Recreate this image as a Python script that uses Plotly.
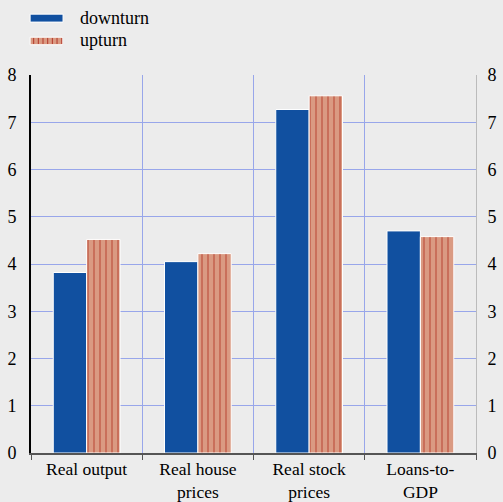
import plotly.graph_objects as go

categories = ["Real output", "Real house<br>prices", "Real stock<br>prices", "Loans-to-<br>GDP"]
downturn = [3.82, 4.05, 7.27, 4.70]
upturn = [4.52, 4.22, 7.56, 4.58]
y_ticks = [0, 1, 2, 3, 4, 5, 6, 7, 8]

FONT = "Liberation Serif"
BG = "#ececec"
GRID = "#98a6ea"
BLUE = "#1150a0"
SALMON = "#da9a82"
RED = "#b3382a"
FS = 18

fig = go.Figure()
fig.add_trace(go.Bar(x=categories, y=downturn, name="downturn",
                     marker=dict(color=BLUE, line=dict(color="white", width=1)),
                     showlegend=False))
fig.add_trace(go.Bar(x=categories, y=upturn, name="upturn",
                     marker=dict(color=SALMON, line=dict(color="white", width=1),
                                 pattern=dict(shape="|", fgcolor=RED, bgcolor=SALMON,
                                              size=6, solidity=0.3)),
                     showlegend=False))
# invisible trace for right axis
fig.add_trace(go.Scatter(x=categories, y=downturn, yaxis="y2", mode="markers",
                         marker=dict(opacity=0), showlegend=False, hoverinfo="skip"))

fig.update_layout(
    width=503, height=502,
    margin=dict(l=31, r=27, t=75, b=49, autoexpand=False),
    paper_bgcolor=BG, plot_bgcolor=BG,
    font=dict(family=FONT, size=FS, color="black"),
    barmode="group", bargap=0.4, bargroupgap=0,
    xaxis=dict(tickson="boundaries", showgrid=True, gridcolor=GRID, gridwidth=1,
               ticks="outside", ticklen=5, tickcolor="#555555", automargin=False,
               showline=True, linecolor="#555555", linewidth=1.5, ticklabelstandoff=-1,
               tickfont=dict(size=17.5, family=FONT)),
    yaxis=dict(range=[0, 8], tickvals=y_ticks, showgrid=True, gridcolor=GRID, gridwidth=1,
               showline=True, linecolor="black", linewidth=2, zeroline=False, automargin=False,
               ticks="", ticklabelstandoff=9, tickfont=dict(size=FS, family=FONT)),
    yaxis2=dict(range=[0, 8], tickvals=y_ticks, overlaying="y", side="right",
                showgrid=False, showline=True, linecolor="#bbbbbb", linewidth=1,
                zeroline=False, ticks="", ticklabelstandoff=7, automargin=False,
                tickfont=dict(size=FS, family=FONT)),
    shapes=[
        dict(type="rect", xref="paper", yref="paper", x0=-0.002, x1=0.072, y0=1.161, y1=1.140,
             fillcolor=BLUE, line=dict(color="white", width=1)),
        dict(type="rect", xref="paper", yref="paper", x0=-0.002, x1=0.070, y0=1.100, y1=1.080,
             fillcolor=SALMON, line=dict(color="white", width=1)),
    ] + [
        dict(type="line", xref="paper", yref="paper", x0=0.006 + i * 0.0105, x1=0.006 + i * 0.0105,
             y0=1.082, y1=1.098, line=dict(color=RED, width=1))
        for i in range(7)
    ],
    annotations=[
        dict(text="downturn", xref="paper", yref="paper", x=0.105, y=1.151, xanchor="left",
             yanchor="middle", showarrow=False, font=dict(size=FS, family=FONT)),
        dict(text="upturn", xref="paper", yref="paper", x=0.105, y=1.093, xanchor="left",
             yanchor="middle", showarrow=False, font=dict(size=FS, family=FONT)),
    ],
)

fig.write_html("out.html", config={"displayModeBar": False},
               post_script="document.body.style.margin='0';")
